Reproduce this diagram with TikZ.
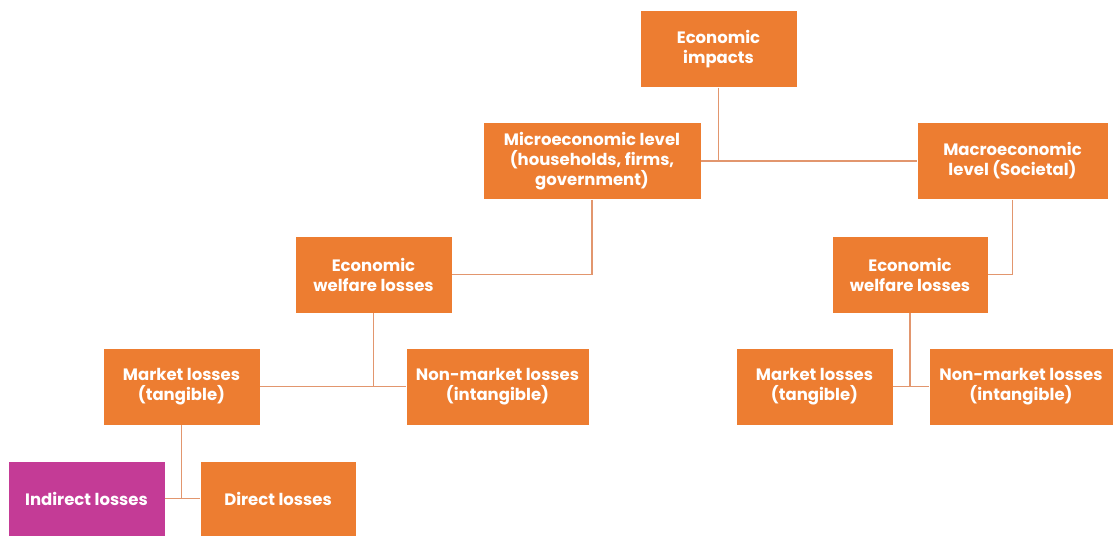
\documentclass[tikz,border=0pt]{standalone}
\usepackage{fontspec}
\setmainfont{Poppins}
\definecolor{boxorange}{RGB}{237,125,49}
\definecolor{boxpink}{RGB}{196,59,150}
\definecolor{linkline}{RGB}{226,150,110}

\begin{document}
\begin{tikzpicture} [x=1pt, y=-1pt,
  box/.style={fill=boxorange, draw=white, line width=.6pt, text=white, align=center,
    font=\fontsize{16.5}{20}\selectfont\bfseries, minimum height=77pt, inner sep=0pt},
  link/.style={draw=linkline, line width=1.3pt}]

\useasboundingbox (0,0) rectangle (1115,536);

\node[box, minimum width=157pt] (impacts) at (718.5,49) {Economic\\impacts};
\node[box, minimum width=218pt] (micro) at (592,161) {Microeconomic level\\(households, firms,\\government)};
\node[box, minimum width=191pt] (macro) at (1012.5,161) {Macroeconomic\\level (Societal)};
\node[box, minimum width=157pt] (welfL) at (373.5,274.5) {Economic\\welfare losses};
\node[box, minimum width=156pt] (welfR) at (910,274.5) {Economic\\welfare losses};
\node[box, minimum width=157pt] (marketL) at (181.5,386.5) {Market losses\\(tangible)};
\node[box, minimum width=183pt] (nonmarketL) at (497.5,386.5) {Non-market losses\\(intangible)};
\node[box, minimum width=157pt] (marketR) at (814.5,386.5) {Market losses\\(tangible)};
\node[box, minimum width=184pt] (nonmarketR) at (1021,386.5) {Non-market losses\\(intangible)};
\node[box, fill=boxpink, minimum width=157pt, minimum height=75pt] (indirect) at (86.5,498.5) {Indirect losses};
\node[box, minimum width=156pt, minimum height=75pt] (direct) at (278,498.5) {Direct losses};

\draw[link] (micro.east) -- (macro.west);
\draw[link] (impacts.south) -- (impacts.south |- micro.east);
\draw[link] (micro.south) |- (welfL.east);
\draw[link] (macro.south) |- (welfR.east);
\draw[link] (marketL.east) -- (nonmarketL.west);
\draw[link] (welfL.south) -- (welfL.south |- marketL.east);
\draw[link] (marketR.east) -- (nonmarketR.west);
\draw[link] (welfR.south) -- (welfR.south |- marketR.east);
\draw[link] (indirect.east) -- (direct.west);
\draw[link] (marketL.south) -- (marketL.south |- direct.west);

\end{tikzpicture}
\end{document}
